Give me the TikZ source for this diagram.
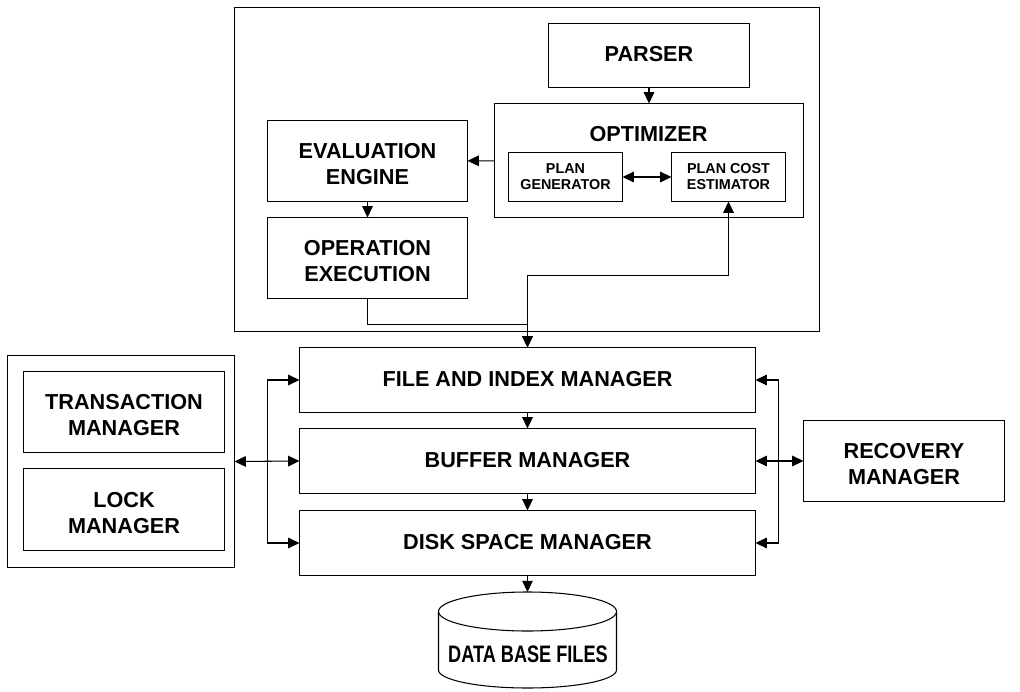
\documentclass[tikz,border=0pt]{standalone}
\usepackage{fontspec}
\setmainfont{Liberation Sans}
\usetikzlibrary{arrows.meta,shapes.geometric}
\tikzset{
    block/.style={draw, black, line width=0.75pt, align=center, inner sep=0pt, outer sep=0pt, font=\fontsize{15.4}{18.5}\selectfont\bfseries},
    smallblock/.style={block, minimum width=2.85cm, minimum height=1.225cm, font=\fontsize{10.2}{11.4}\selectfont\bfseries},
    bigblock/.style={block, minimum width=5.025cm, minimum height=2.025cm, text height=33.7pt},
    mgrblock/.style={block, minimum width=11.4cm, minimum height=1.625cm, text depth=1.4pt},
    conn/.style={draw, black, line width=0.75pt, -{Triangle[length=8pt,width=7.5pt]}},
    biconn/.style={conn, {Triangle[length=8pt,width=7.5pt]}-{Triangle[length=8pt,width=7.5pt]}}
}
\begin{document}
\begin{tikzpicture}[x=0.025cm,y=-0.025cm]
    \useasboundingbox (0,0) rectangle (1020,691);

    \node[block, minimum width=14.625cm, minimum height=8.1cm] (engine) at (527,169.5) {};
    \node[block, minimum width=5.675cm, minimum height=5.3cm] (concurrency) at (121,461.5) {};

    \node[block, minimum width=5.025cm, minimum height=1.6cm, text depth=2.8pt] (parser) at (649,55.5) {PARSER};
    \node[block, minimum width=7.725cm, minimum height=2.85cm] (optimizer) at (649,160.5) {};
    \node[font=\fontsize{15.4}{18.5}\selectfont\bfseries] (optlabel) at (648.5,134) {OPTIMIZER};
    \node[smallblock] (plangen) at (565.5,177) {PLAN\\GENERATOR};
    \node[smallblock] (plancost) at (728.5,177) {PLAN COST\\ESTIMATOR};
    \node[bigblock, minimum width=5cm] (eval) at (367.5,161) {EVALUATION\\ENGINE};
    \node[bigblock, minimum width=5cm] (opexec) at (367.5,258) {OPERATION\\EXECUTION};

    \node[mgrblock] (filemgr) at (527.5,380) {FILE AND INDEX MANAGER};
    \node[mgrblock] (buffermgr) at (527.5,461) {BUFFER MANAGER};
    \node[mgrblock] (diskmgr) at (527.5,543) {DISK SPACE MANAGER};

    \node[bigblock] (txnmgr) at (124,412) {TRANSACTION\\MANAGER};
    \node[bigblock, minimum height=2.05cm] (lockmgr) at (124,509.5) {LOCK\\MANAGER};
    \node[bigblock] (recovery) at (904,461) {RECOVERY\\MANAGER};

    \node[draw, black, line width=0.75pt, ellipse, minimum width=4.45cm, minimum height=0.975cm, inner sep=0pt, outer sep=0pt] (dbfiles) at (527.5,611.5) {};
    \draw[black, line width=0.75pt] (dbfiles.west) -- ++(0,58.5) arc (180:0:89 and 18) -- (dbfiles.east);
    \node[font=\fontsize{15}{18}\selectfont\bfseries, xscale=0.86, yscale=1.13] (dblabel) at (528,654) {DATA BASE FILES};

    \coordinate (leftbus) at (267.5,461);
    \coordinate (rightbus) at (778.5,461);
    \coordinate (merge) at (527.5,324.5);

    \draw[conn] (parser) -- (optimizer);
    \draw[conn] (optimizer) -- (eval);
    \draw[conn] (eval) -- (opexec);
    \draw[biconn] (plangen) -- (plancost);
    \draw[biconn] (filemgr.north) -- ++(0,-72) -| (plancost.south);
    \draw[conn] (opexec.south) |- (merge) -- (filemgr.north);

    \draw[conn] (filemgr) -- (buffermgr);
    \draw[conn] (buffermgr) -- (diskmgr);
    \draw[conn] (diskmgr) -- (dbfiles);

    \draw[biconn] (concurrency.east) -- (buffermgr.west);
    \draw[conn] (leftbus) |- (filemgr.west);
    \draw[conn] (leftbus) |- (diskmgr.west);

    \draw[biconn] (buffermgr.east) -- (recovery.west);
    \draw[conn] (rightbus) |- (filemgr.east);
    \draw[conn] (rightbus) |- (diskmgr.east);
\end{tikzpicture}
\end{document}
